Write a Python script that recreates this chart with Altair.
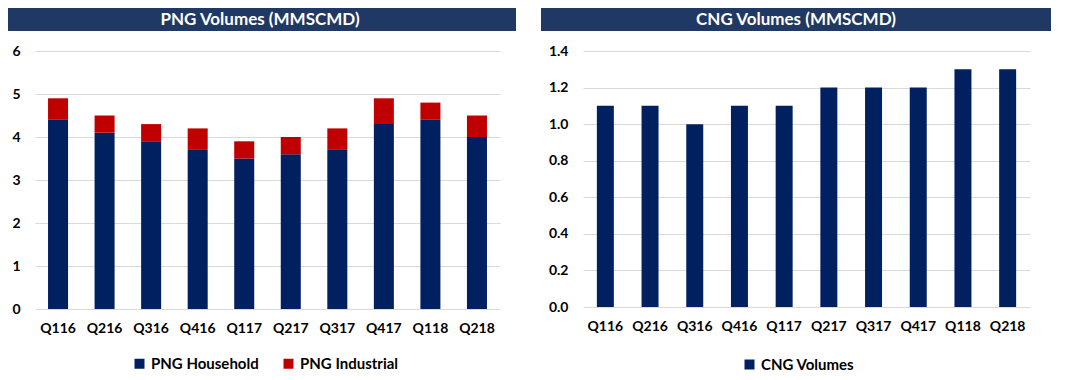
import altair as alt
import pandas as pd

quarters = ["Q116", "Q216", "Q316", "Q416", "Q117", "Q217", "Q317", "Q417", "Q118", "Q218"]
png_household = [4.4, 4.1, 3.9, 3.7, 3.5, 3.6, 3.7, 4.3, 4.4, 4.0]
png_industrial = [0.5, 0.4, 0.4, 0.5, 0.4, 0.4, 0.5, 0.6, 0.4, 0.5]
cng_volumes = [1.1, 1.1, 1.0, 1.1, 1.1, 1.2, 1.2, 1.2, 1.3, 1.3]

png_series = ["PNG Household", "PNG Industrial"]
cng_series = ["CNG Volumes"]
png_title = "PNG Volumes (MMSCMD)"
cng_title = "CNG Volumes (MMSCMD)"

NAVY = "#002060"
RED = "#C00000"
BANNER = "#1F3864"
FONT = "Lato"

rows = []
for q, h, i in zip(quarters, png_household, png_industrial):
    rows.append({"quarter": q, "series": png_series[0], "value": h, "ord": 0})
    rows.append({"quarter": q, "series": png_series[1], "value": i, "ord": 1})
png_df = pd.DataFrame(rows)
cng_df = pd.DataFrame({"quarter": quarters, "series": cng_series[0], "value": cng_volumes})

LW, LH = 465, 258
RW, RH = 447, 256


def banner(title, x0, x1):
    d = pd.DataFrame({"t": [title]})
    rect = alt.Chart(d).mark_rect(color=BANNER).encode(
        x=alt.value(x0), x2=alt.value(x1), y=alt.value(-43), y2=alt.value(-20)
    )
    txt = alt.Chart(d).mark_text(
        color="white", font=FONT, fontWeight="bold", fontSize=17, baseline="middle", align="center"
    ).encode(x=alt.value((x0 + x1) / 2), y=alt.value(-31), text="t:N")
    return rect, txt


xaxis = alt.Axis(title=None, labelAngle=0, ticks=False, domain=False, labelPadding=12,
                 labelFont=FONT, labelFontWeight="bold", labelFontSize=14, labelColor="black")

left_bars = alt.Chart(png_df).mark_bar().encode(
    x=alt.X("quarter:N", sort=quarters, axis=xaxis,
            scale=alt.Scale(paddingInner=0.57, paddingOuter=0.28)),
    y=alt.Y("value:Q", stack="zero",
            scale=alt.Scale(domain=[0, 6]),
            axis=alt.Axis(title=None, values=[0, 1, 2, 3, 4, 5, 6], format="d", ticks=False, domain=False,
                          labelPadding=15, gridColor="#D9D9D9", labelFont=FONT, labelFontWeight="bold",
                          labelFontSize=14, labelColor="black")),
    color=alt.Color("series:N", scale=alt.Scale(domain=png_series, range=[NAVY, RED]),
                    legend=alt.Legend(title=None, orient="none", legendX=97, legendY=305,
                                      direction="horizontal", symbolType="square", symbolSize=100,
                                      symbolStrokeWidth=0, columnPadding=22, labelFont=FONT,
                                      labelFontWeight="bold", labelFontSize=15, labelColor="black")),
    order=alt.Order("ord:Q", sort="ascending"),
)
lr, lt = banner(png_title, -31, 481)
left = alt.layer(lr, lt, left_bars).properties(width=LW, height=LH)

right_bars = alt.Chart(cng_df).mark_bar().encode(
    x=alt.X("quarter:N", sort=quarters, axis=xaxis,
            scale=alt.Scale(paddingInner=0.62, paddingOuter=0.31)),
    y=alt.Y("value:Q", scale=alt.Scale(domain=[0, 1.4]),
            axis=alt.Axis(title=None, values=[0, 0.2, 0.4, 0.6, 0.8, 1.0, 1.2, 1.4], format=".1f",
                          ticks=False, domain=False, labelPadding=15, gridColor="#D9D9D9",
                          labelFont=FONT, labelFontWeight="bold", labelFontSize=14, labelColor="black")),
    color=alt.Color("series:N", scale=alt.Scale(domain=cng_series, range=[NAVY]),
                    legend=alt.Legend(title=None, orient="none", legendX=159, legendY=306,
                                      direction="horizontal", symbolType="square", symbolSize=100,
                                      symbolStrokeWidth=0, labelFont=FONT,
                                      labelFontWeight="bold", labelFontSize=15, labelColor="black")),
)
rr, rt = banner(cng_title, -42, 468)
right = alt.layer(rr, rt, right_bars).properties(width=RW, height=RH)

chart = alt.hconcat(left, right, spacing=25).resolve_scale(color="independent").resolve_legend(
    color="independent"
).configure_view(stroke=None).properties(
    padding={"top": 0, "left": -4, "right": 0, "bottom": 0}, background="white"
)

chart.save("out.html", embed_options={"renderer": "svg", "actions": False})
